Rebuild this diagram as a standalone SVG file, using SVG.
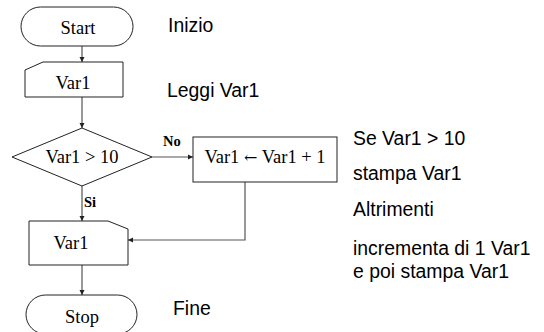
<svg xmlns="http://www.w3.org/2000/svg" width="544" height="332" viewBox="0 0 544 332">
<style>
.sh{fill:#fff;stroke:#222;stroke-width:1}
.ln{fill:none;stroke:#555;stroke-width:1.2}
.sf{font-family:"Liberation Serif","Times New Roman",serif;font-size:18.5px;fill:#000}
.ar{font-family:"DejaVu Serif",serif;font-size:16px}
.lb{font-family:"Liberation Serif","Times New Roman",serif;font-size:14.5px;font-weight:bold;fill:#000}
.ss{font-family:"Liberation Sans",Arial,sans-serif;font-size:19.4px;fill:#000}
</style>
<defs>
<marker id="ah" markerWidth="6" markerHeight="6" refX="5" refY="3" orient="auto" markerUnits="userSpaceOnUse">
<path d="M0,0.5 L5,3 L0,5.5 Z" fill="#222"/>
</marker>
</defs>
<g id="connectors">
<line class="ln" x1="82" y1="46" x2="82" y2="62" marker-end="url(#ah)"/>
<line class="ln" x1="82" y1="97" x2="82" y2="128" marker-end="url(#ah)"/>
<line class="ln" x1="152" y1="157" x2="193" y2="157" marker-end="url(#ah)"/>
<line class="ln" x1="82" y1="186" x2="82" y2="221" marker-end="url(#ah)"/>
<polyline class="ln" points="245,182 245,240 128,240" marker-end="url(#ah)"/>
<line class="ln" x1="82" y1="265" x2="82" y2="295" marker-end="url(#ah)"/>
<text class="lb" x="163" y="146">No</text>
<text class="lb" x="84" y="207">Si</text>
</g>
<g id="start">
<rect class="sh" x="21" y="7" width="112" height="39" rx="19.5"/>
<text class="sf" x="78" y="34" text-anchor="middle">Start</text>
</g>
<g id="input">
<polygon class="sh" points="25,70 43,62 123,62 123,97 25,97"/>
<text class="sf" x="73" y="89" text-anchor="middle">Var1</text>
</g>
<g id="decision">
<polygon class="sh" points="82,128 152,157 82,186 12,157"/>
<text class="sf" x="82" y="163" text-anchor="middle">Var1 &gt; 10</text>
</g>
<g id="process">
<rect class="sh" x="193" y="137" width="144" height="45"/>
<text class="sf" x="265" y="163" text-anchor="middle">Var1 <tspan class="ar">←</tspan> Var1 + 1</text>
</g>
<g id="output">
<polygon class="sh" points="29,221 108,221 128,229 128,265 29,265"/>
<text class="sf" x="71" y="249" text-anchor="middle">Var1</text>
</g>
<g id="stop">
<rect class="sh" x="26" y="295" width="111" height="39" rx="19.5"/>
<text class="sf" x="82" y="323" text-anchor="middle">Stop</text>
</g>
<g id="notes">
<text class="ss" x="168" y="32">Inizio</text>
<text class="ss" x="167" y="97">Leggi Var1</text>
<text class="ss" x="173" y="315">Fine</text>
<text class="ss" x="353" y="145">Se Var1 &gt; 10</text>
<text class="ss" x="353" y="180">stampa Var1</text>
<text class="ss" x="353" y="216">Altrimenti</text>
<text class="ss" x="353" y="255">incrementa di 1 Var1</text>
<text class="ss" x="353" y="278">e poi stampa Var1</text>
</g>
</svg>
